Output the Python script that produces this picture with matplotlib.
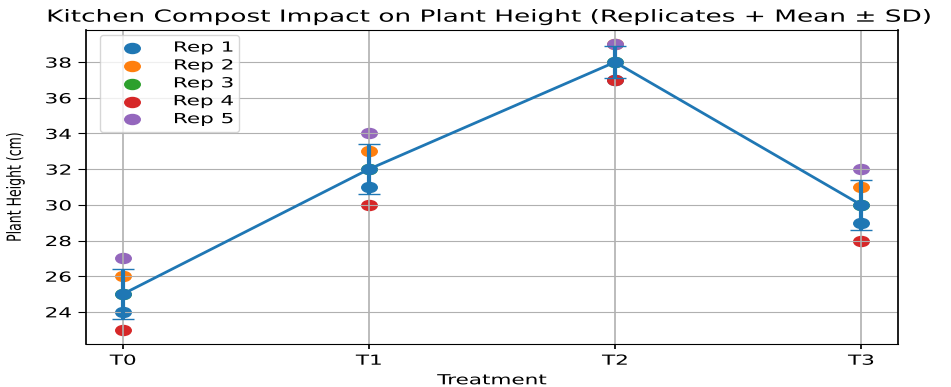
import numpy as np
import matplotlib
matplotlib.use("Agg")
import matplotlib.pyplot as plt
from matplotlib.patheffects import AbstractPathEffect
from matplotlib.transforms import Affine2D
from matplotlib.path import Path

# data
treatments = ["T0", "T1", "T2", "T3"]
rep1 = [24, 31, 37, 29]
rep2 = [26, 33, 39, 31]
rep3 = [25, 32, 38, 30]
rep4 = [23, 30, 37, 28]
rep5 = [27, 34, 39, 32]
reps = [rep1, rep2, rep3, rep4, rep5]
rep_labels = ["Rep 1", "Rep 2", "Rep 3", "Rep 4", "Rep 5"]

SX = 1.55  # the reference looks stretched sideways


class StretchX(AbstractPathEffect):
    """Widen text glyphs horizontally around an anchor."""

    def __init__(self, anchor="center", sx=SX):
        super().__init__()
        self.anchor = anchor
        self.sx = sx

    def draw_path(self, renderer, gc, tpath, affine, rgbFace=None):
        ext = tpath.get_extents(affine)
        if self.anchor == "left":
            px = ext.x0
        elif self.anchor == "right":
            px = ext.x1
        else:
            px = (ext.x0 + ext.x1) / 2
        st = Affine2D().translate(-px, 0).scale(self.sx, 1).translate(px, 0)
        renderer.draw_path(gc, tpath, affine + st, rgbFace)


circ = Path.unit_circle()
ell = Path(circ.vertices * [1, 1 / SX], circ.codes)

fig = plt.figure(figsize=(9.51, 3.87), dpi=100)
ax = fig.add_axes([86 / 951, 43 / 387, 812 / 951, 314 / 387])

x = np.arange(len(treatments))
for i, r in enumerate(reps):
    ax.scatter(x, r, s=125, marker=ell, color=f"C{i}", label=rep_labels[i])

data = np.array(reps)
means = data.mean(axis=0)
sds = data.std(axis=0)
ax.errorbar(x, means, yerr=sds, fmt="-", marker=ell, ms=11, color="C0",
            lw=2, elinewidth=3, capsize=8, capthick=1)

ax.set_xticks(x, treatments)
ax.grid(True, axis="x", linewidth=1.2)
ax.grid(True, axis="y", linewidth=0.8)
for side in ["left", "right"]:
    ax.spines[side].set_linewidth(1.24)
ax.tick_params(axis="y", length=5.5, pad=5, labelsize=10)
ax.tick_params(axis="x", width=1.24, labelsize=10)

t = ax.set_title("Kitchen Compost Impact on Plant Height (Replicates + Mean ± SD)",
                 fontsize=12, x=0.495)
t.set_path_effects([StretchX("center", 1.58)])
xl = ax.set_xlabel("Treatment", fontsize=10)
xl.set_path_effects([StretchX("center")])
yl = ax.set_ylabel("Plant Height (cm)", fontsize=9)
yl.set_path_effects([StretchX("center")])
ax.yaxis.set_label_coords(-0.079, 0.5)
for lab in ax.get_xticklabels():
    lab.set_path_effects([StretchX("center")])
for lab in ax.get_yticklabels():
    lab.set_path_effects([StretchX("right")])

leg = ax.legend(loc="upper left", bbox_to_anchor=(14 / 812, (344 - 35) / 314),
                borderaxespad=0, handlelength=3.8, handletextpad=2.57,
                labelspacing=0.28, fontsize=10, scatterpoints=1)
for txt in leg.get_texts():
    txt.set_path_effects([StretchX("right")])

fig.savefig("out.png", dpi=100)
